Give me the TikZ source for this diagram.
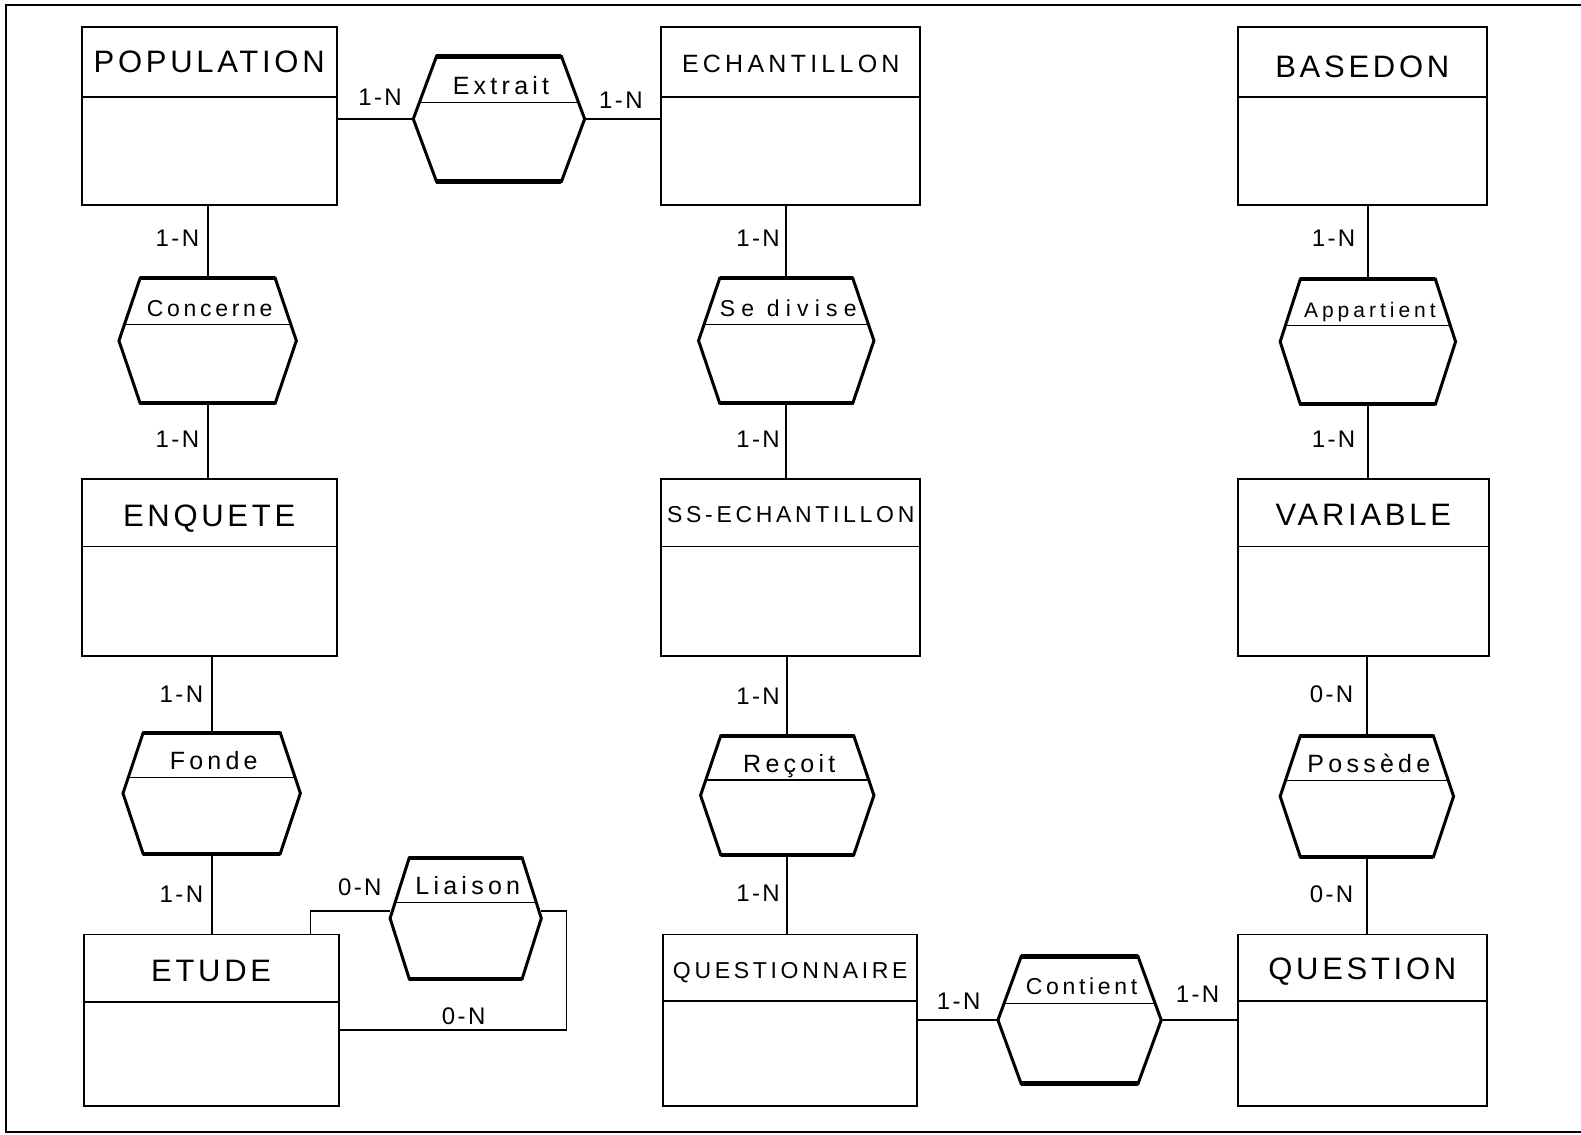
\documentclass[tikz,border=0pt]{standalone}
\usepackage{fontspec}
\setmainfont{Liberation Sans}
\usetikzlibrary{calc}
\newcommand\fbig{\fontsize{31}{36}\selectfont\addfontfeatures{LetterSpace=12}}
\newcommand\fsmall{\fontsize{23}{28}\selectfont\addfontfeatures{LetterSpace=16}}
\newcommand\fech{\fontsize{25}{30}\selectfont\addfontfeatures{LetterSpace=17}}
\newcommand\frel{\fontsize{25}{30}\selectfont\addfontfeatures{LetterSpace=17}}
\newcommand\frelsm{\fontsize{23}{26}\selectfont\addfontfeatures{LetterSpace=16}}
\newcommand\frelwide{\fontsize{23}{26}\selectfont\addfontfeatures{LetterSpace=27}}
\newcommand\frelapp{\fontsize{21}{26}\selectfont\addfontfeatures{LetterSpace=19}}
\newcommand\fcard{\fontsize{24}{28}\selectfont\addfontfeatures{LetterSpace=10}}
\tikzset{
  entbox/.style={draw, line width=1.8pt, inner sep=0pt, outer sep=0pt},
  relbox/.style={draw=none, inner sep=0pt, outer sep=0pt},
  hexline/.style={line width=3pt, line join=miter},
  hexedge/.style={line width=4.5pt},
  divline/.style={line width=1.5pt},
  conn/.style={line width=1.7pt},
  frame/.style={line width=2pt},
  etext/.style={inner sep=0pt, font=\fbig, text height=22pt, text depth=0pt},
  rtext/.style={inner sep=0pt, font=\frel, text height=17pt, text depth=0pt},
  card/.style={inner sep=0pt, font=\fcard, text height=17pt, text depth=0pt},
}
% entity: name, x1, y1, x2, y2, ydivider, text offset, label
\newcommand\entity[8]{%
  \node[entbox, anchor=north west, minimum width={(#4-#2)*1.008pt}, minimum height={(#5-#3)*1.008pt}] (#1) at (#2,#3) {};
  \draw[divline] (#2,#6) -- (#4,#6);
  \node[etext] (#1-name) at ({(#2+#4)/2},{(#3+#6)/2+#7}) {#8};
}
% relation: name, cx, cy, half top width, half widest width, half height, label
\newcommand\rel[7]{%
  \node[relbox, minimum width={2*#5*1.008pt}, minimum height={2*#6*1.008pt}] (#1) at (#2,#3) {};
  \pgfmathsetmacro\dy{#3-0.26*#6}
  \pgfmathsetmacro\dx{#4+0.74*(#5-#4)}
  \draw[divline] ({#2-\dx},\dy) -- ({#2+\dx},\dy);
  \draw[hexline] ({#2-#4},{#3-#6}) -- ({#2+#4},{#3-#6}) -- ({#2+#5},#3) -- ({#2+#4},{#3+#6}) -- ({#2-#4},{#3+#6}) -- ({#2-#5},#3) -- cycle;
  \draw[hexedge] ({#2-#4},{#3-#6}) -- ({#2+#4},{#3-#6});
  \draw[hexedge] ({#2-#4},{#3+#6}) -- ({#2+#4},{#3+#6});
  \node[rtext] (#1-name) at ({#2+2},{#3-0.53*#6}) {#7};
}
\begin{document}
\begin{tikzpicture}[x=1.008pt,y=-1.008pt]
\useasboundingbox (0,0) rectangle (1568.45,1125);
\fill[white] (0,0) rectangle (1568.45,1125);
% frame (open on the right, as in the scan)
\draw[frame] (1568.45,5) -- (6,5) -- (6,1123) -- (1568.45,1123);

% entities
\entity{pop}{81}{27}{334}{203}{96}{0}{POPULATION}
\entity{ech}{656}{27}{913}{203}{96}{0}{\fech ECHANTILLON}
\entity{base}{1228}{27}{1475}{203}{96}{4}{BASEDON}
\entity{enq}{81}{475}{334}{651}{542}{3}{ENQUETE}
\entity{ssech}{656}{475}{913}{651}{542}{-1}{\fsmall SS-ECHANTILLON}
\entity{var}{1228}{475}{1477}{651}{542}{2}{VARIABLE}
\entity{etude}{83}{927}{336}{1097}{994}{2}{ETUDE}
\entity{quest}{658}{927}{910}{1097}{993}{0}{\fsmall QUESTIONNAIRE}
\entity{question}{1228}{927}{1475}{1097}{993}{1}{QUESTION}

% relations
\rel{extrait}{495}{118}{62}{85}{62}{Extrait}
\rel{concerne}{206}{338}{67}{88}{62}{\frelsm Concerne}
\rel{divise}{780}{338}{66}{87}{62}{\frelwide Se divise}
\rel{appart}{1357}{339}{67}{87}{62}{\frelapp Appartient}
\rel{fonde}{210}{787}{68}{88}{60}{Fonde}
\rel{recoit}{781}{789}{66}{86}{59}{Reçoit}
\rel{possede}{1356}{790}{66}{86}{60}{Possède}
\rel{liaison}{462}{911}{56}{75}{60}{Liaison}
\rel{contient}{1071}{1012}{58}{81}{63}{\frelsm Contient}

% connectors
\draw[conn] (pop.east |- extrait.west) -- (extrait.west);
\draw[conn] (extrait.east) -- (extrait.east -| ech.west);
\draw[conn] (concerne.north |- pop.south) -- (concerne.north);
\draw[conn] (concerne.south) -- (concerne.south |- enq.north);
\draw[conn] (divise.north |- ech.south) -- (divise.north);
\draw[conn] (divise.south) -- (divise.south |- ssech.north);
\draw[conn] (appart.north |- base.south) -- (appart.north);
\draw[conn] (appart.south) -- (appart.south |- var.north);
\draw[conn] (fonde.north |- enq.south) -- (fonde.north);
\draw[conn] (fonde.south) -- (fonde.south |- etude.north);
\draw[conn] (recoit.north |- ssech.south) -- (recoit.north);
\draw[conn] (recoit.south) -- (recoit.south |- quest.north);
\draw[conn] (possede.north |- var.south) -- (possede.north);
\draw[conn] (possede.south) -- (possede.south |- question.north);
\draw[conn] (quest.east |- contient.west) -- (contient.west);
\draw[conn] (contient.east) -- (contient.east -| question.west);
% Liaison loop
\coordinate (loopTL) at (308,904);
\coordinate (loopTR) at (562,904);
\coordinate (loopBR) at (562,1022);
\draw[conn] (loopTL |- etude.north) -- (loopTL) -- (loopTL -| liaison.west);
\draw[conn] (loopTL -| liaison.east) -- (loopTR) -- (loopBR) -- (loopBR -| etude.east);

% cardinalities
\node[card] (c1) at (377,96) {1-N};
\node[card] (c2) at (616,99) {1-N};
\node[card] (c3) at (176,236) {1-N};
\node[card] (c4) at (176,436) {1-N};
\node[card] (c5) at (752,236) {1-N};
\node[card] (c6) at (752,436) {1-N};
\node[card] (c7) at (1323,236) {1-N};
\node[card] (c8) at (1323,436) {1-N};
\node[card] (c9) at (180,688) {1-N};
\node[card] (c10) at (180,887) {1-N};
\node[card] (c11) at (752,690) {1-N};
\node[card] (c12) at (752,886) {1-N};
\node[card] (c13) at (1321,688) {0-N};
\node[card] (c14) at (1321,887) {0-N};
\node[card] (c15) at (357,880) {0-N};
\node[card] (c16) at (460,1008) {0-N};
\node[card] (c17) at (951,993) {1-N};
\node[card] (c18) at (1188,986) {1-N};
\end{tikzpicture}
\end{document}
